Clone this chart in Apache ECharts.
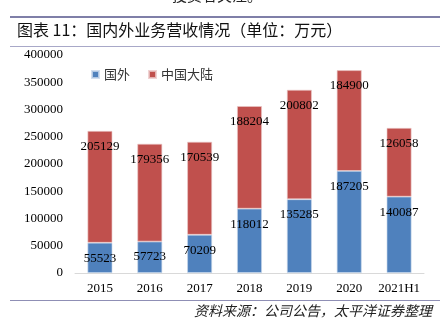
<!DOCTYPE html>
<html><head><meta charset="utf-8">
<script src="https://cdn.jsdelivr.net/npm/echarts@6/dist/echarts.min.js"></script>
<style>html,body{margin:0;padding:0;background:#fff}#c{width:445px;height:323px}</style>
</head><body><div id="c"></div>
<script>
const categories = ['2015','2016','2017','2018','2019','2020','2021H1'];
const foreign = [55523,57723,70209,118012,135285,187205,140087];
const mainland = [205129,179356,170539,188204,200802,184900,126058];
const seriesNames = ['国外','中国大陆'];
const yTicks = {min:0, max:400000, interval:50000};

const chart = echarts.init(document.getElementById('c'));
const serif = '"Liberation Serif","Times New Roman",serif';
const cjk = '"Noto Sans CJK SC",sans-serif';
const labelCfg = {show:true, position:'insideTop', distance:9, color:'#000', fontFamily:serif, fontSize:13};
chart.setOption({
  animation:false,
  grid:{left:75, right:21, top:55, bottom:50},
  legend:{left:86, top:63, itemWidth:7, itemHeight:7, itemGap:18, icon:'rect',
    textStyle:{fontFamily:cjk, fontSize:13, color:'#333'}, data:seriesNames},
  xAxis:{type:'category', data:categories,
    axisLine:{lineStyle:{color:'#d9d9d9'}}, axisTick:{show:false},
    axisLabel:{color:'#000', fontFamily:serif, fontSize:13, margin:9, interval:0}},
  yAxis:{type:'value', min:yTicks.min, max:yTicks.max, interval:yTicks.interval,
    splitLine:{show:false}, axisLine:{show:false}, axisTick:{show:false},
    axisLabel:{color:'#000', fontFamily:serif, fontSize:13, margin:12, formatter:v=>String(v)}},
  series:[
    {name:seriesNames[0], type:'bar', stack:'a', data:foreign, barWidth:'50%',
     itemStyle:{color:'#4F81BD', borderColor:'rgba(200,215,235,0.8)', borderWidth:0.8}, label:labelCfg},
    {name:seriesNames[1], type:'bar', stack:'a', data:mainland, barWidth:'50%',
     itemStyle:{color:'#C0504D', borderColor:'rgba(235,200,200,0.8)', borderWidth:0.8}, label:labelCfg}
  ],
  graphic:[
    {type:'text', left:172, top:-12, style:{text:'投资者关注。', fontFamily:cjk, fontSize:15, fill:'#222'}},
    {type:'rect', shape:{x:10, y:16, width:430, height:2}, style:{fill:'#7f7fa8'}},
    {type:'text', left:17, top:22, style:{text:'图表 11：国内外业务营收情况（单位：万元）', fontFamily:cjk, fontSize:16, fill:'#111'}},
    {type:'rect', shape:{x:10, y:46, width:430, height:1}, style:{fill:'#a8a8c8'}},
    {type:'rect', shape:{x:10, y:300, width:430, height:1}, style:{fill:'#8f8fb5'}},
    {type:'text', right:13, top:304, style:{text:'资料来源：公司公告，太平洋证券整理', fontFamily:cjk, fontSize:14, fontStyle:'italic', fill:'#222'}}
  ]
});
</script></body></html>
